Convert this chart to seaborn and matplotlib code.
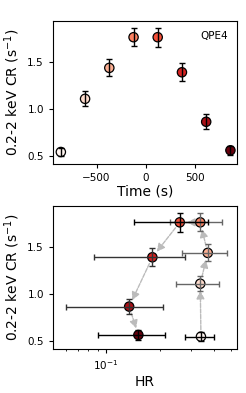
import numpy as np
import matplotlib
matplotlib.use('Agg')
import matplotlib.pyplot as plt
import seaborn as sns

## DATA ##
time = [-864, -617, -370, -123, 123, 370, 617, 864]
cr = [0.543, 1.11, 1.44, 1.767, 1.767, 1.393, 0.865, 0.561]
cr_err = [0.046, 0.08, 0.09, 0.096, 0.10, 0.095, 0.078, 0.05]
hr = [0.340, 0.337, 0.371, 0.337, 0.259, 0.182, 0.135, 0.152]
hr_err = [0.063, 0.091, 0.105, 0.11, 0.115, 0.096, 0.075, 0.062]
ecols = ['k', '#666666', '#666666', '#666666', 'k', '#333333', '#333333', 'k']

colors = [plt.cm.Reds(v) for v in np.linspace(0, 1, len(time))]
idx = list(range(len(time)))

fig = plt.figure(figsize=(2.46, 3.93), dpi=100)
ax1 = fig.add_axes([0.215, 0.5827, 0.748, 0.3639])
ax2 = fig.add_axes([0.215, 0.112, 0.748, 0.3638])

# light curve
sns.scatterplot(x=time, y=cr, hue=idx, palette=colors, s=45, edgecolor='k',
                linewidth=0.9, legend=False, zorder=2, ax=ax1)
ax1.errorbar(time, cr, yerr=cr_err, fmt='none', ecolor='k', elinewidth=1,
             capsize=2, zorder=3)
ax1.set_xlim(-945, 930)
ax1.set_ylim(0.415, 1.94)
ax1.set_xticks([-500, 0, 500])
ax1.set_yticks([0.5, 1.0, 1.5])
ax1.set_xlabel('Time (s)', fontsize=10, labelpad=1)
ax1.set_ylabel('0.2-2 keV CR (s$^{-1}$)', fontsize=10, labelpad=4)
ax1.text(0.95, 0.93, 'QPE4', transform=ax1.transAxes, ha='right', va='top', fontsize=7.5)
ax1.tick_params(labelsize=7.5, length=3)

# HR vs CR
sns.scatterplot(x=hr, y=cr, hue=idx, palette=colors, s=45, edgecolor='k',
                linewidth=0.9, legend=False, zorder=2, ax=ax2)
for i in idx:
    ax2.errorbar(hr[i], cr[i], xerr=hr_err[i], yerr=cr_err[i], fmt='none',
                 ecolor=ecols[i], elinewidth=1, capsize=2, zorder=3)
for i in idx[:-1]:
    ax2.annotate('', xy=(hr[i + 1], cr[i + 1]), xytext=(hr[i], cr[i]),
                 arrowprops=dict(arrowstyle='-|>', color='#bbbbbb', lw=1,
                                 ls=(0, (3, 1)), shrinkA=5, shrinkB=5,
                                 mutation_scale=12), zorder=1)
ax2.set_xscale('log')
ax2.set_xlim(0.0506, 0.54)
ax2.set_ylim(0.411, 1.942)
ax2.set_yticks([0.5, 1.0, 1.5])
ax2.set_xlabel('HR', fontsize=10, labelpad=2)
ax2.set_ylabel('0.2-2 keV CR (s$^{-1}$)', fontsize=10, labelpad=4)
ax2.tick_params(labelsize=7.5, length=3)
ax2.tick_params(which='minor', length=1.5)

plt.savefig('out.png', dpi=100)
